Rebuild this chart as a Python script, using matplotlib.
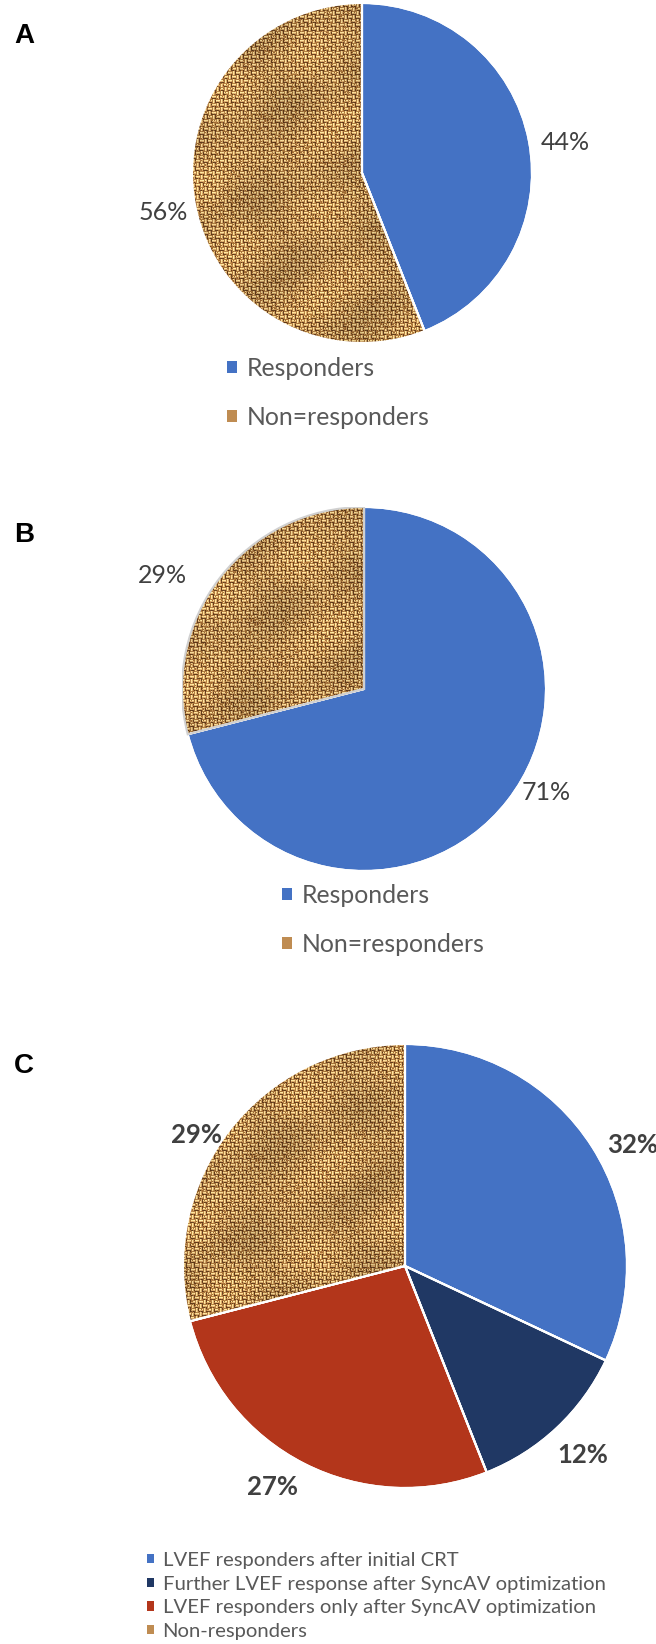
import numpy as np
import matplotlib
matplotlib.use("Agg")
import matplotlib.pyplot as plt
import matplotlib.patches as mpatches

# ---------------- data ----------------
a_labels = ["Responders", "Non=responders"]
a_values = [44, 56]

b_labels = ["Responders", "Non=responders"]
b_values = [71, 29]

c_labels = ["LVEF responders after initial CRT",
            "Further LVEF response after SyncAV optimization",
            "LVEF responders only after SyncAV optimization",
            "Non-responders"]
c_values = [32, 12, 27, 29]

panel_letters = ["A", "B", "C"]

# ---------------- style ----------------
W, H = 656, 1644
BLUE = "#4472C4"
NAVY = "#203864"
RED = "#B3361B"
TAN = "#BF8C52"
LABEL_COL = "#404040"
LEGEND_COL = "#595959"
FONT = ["Lato", "DejaVu Sans"]

fig = plt.figure(figsize=(W / 100, H / 100), dpi=100)


def weave_texture(n):
    y, x = np.mgrid[0:n, 0:n].astype(float)
    xi = x.astype(int)
    yi = y.astype(int)
    blk = 4
    orient = ((xi // blk) + (yi // blk)) % 2
    light = np.where(orient == 0, yi % blk == 1, xi % blk == 1)
    mid = np.where(orient == 0, yi % blk == 2, xi % blk == 2)
    darkl = np.where(orient == 0, yi % blk == 3, xi % blk == 3)
    h = np.sin(x * 12.9898 + y * 78.233) * 43758.5453
    h = h - np.floor(h)
    low = 0.5 + 0.25 * np.sin(x / 17.0 + np.sin(y / 23.0)) + 0.25 * np.sin(y / 13.0 + x / 31.0)
    base = np.array([0.66, 0.46, 0.24])
    lite = np.array([0.96, 0.85, 0.58])
    midc = np.array([0.82, 0.64, 0.40])
    dark = np.array([0.38, 0.23, 0.10])
    img = np.zeros((n, n, 3)) + base
    img[mid] = midc
    img[light & (h > 0.15)] = lite
    img[darkl & (h > 0.25)] = dark
    img = img * (0.90 + 0.18 * low[..., None]) + (h[..., None] - 0.5) * 0.10
    return np.clip(img, 0, 1)


def draw_pie(cx, cy, r, values, colors, tex_index, label_pos, bold, fs, outline_col):
    ax = fig.add_axes([(cx - r) / W, (H - cy - r) / H, 2 * r / W, 2 * r / H])
    wedges, _ = ax.pie(values, colors=colors, startangle=90, counterclock=False,
                       radius=1, wedgeprops=dict(edgecolor="white", linewidth=1.5))
    tw = wedges[tex_index]
    n = int(round(2 * r))
    im = ax.imshow(weave_texture(n), extent=(-1, 1, -1, 1), interpolation="nearest",
                   zorder=1.5)
    im.set_clip_path(tw)
    for i, w in enumerate(wedges):
        ec = outline_col if (i == tex_index and outline_col) else "white"
        ax.add_patch(mpatches.Wedge(w.center, w.r, w.theta1, w.theta2, fc="none",
                                    ec=ec, lw=1.5, zorder=2))
    for i, (w, v) in enumerate(zip(wedges, values)):
        th = np.deg2rad((w.theta1 + w.theta2) / 2 + label_pos[i][1])
        d = label_pos[i][0]
        ax.text(d * np.cos(th), d * np.sin(th), f"{v}%", ha="center", va="center",
                fontsize=fs, color=LABEL_COL, family=FONT,
                fontweight="bold" if bold else "normal")
    ax.set_xlim(-1, 1)
    ax.set_ylim(-1, 1)
    ax.set_aspect("auto")
    ax.axis("off")
    return wedges


def add_legend(labels, colors, x, y, fs, hl, hp, ls):
    handles = [mpatches.Patch(facecolor=c, edgecolor="none") for c in colors]
    leg = fig.legend(handles, labels, loc="center left",
                     bbox_to_anchor=(x / W, 1 - y / H), bbox_transform=fig.transFigure,
                     frameon=False, borderpad=0, borderaxespad=0,
                     handlelength=hl, handleheight=hl, handletextpad=hp,
                     labelspacing=ls, prop=dict(family=FONT, size=fs))
    for t in leg.get_texts():
        t.set_color(LEGEND_COL)
    return leg


# Panel A
draw_pie(362, 173, 170, a_values, [BLUE, TAN], 1,
         [(1.21, -2.4), (1.19, 0.6)], False, 18, None)
add_legend(a_labels, [BLUE, TAN], 227, 393, 17.8, 0.40, 0.4, 1.05)

# Panel B
draw_pie(364, 689, 182, b_values, [BLUE, TAN], 1,
         [(1.15, 8.3), (1.27, 8.4)], False, 18, "#D0D0D0")
add_legend(b_labels, [BLUE, TAN], 282, 920, 17.8, 0.40, 0.4, 1.05)

# Panel C
draw_pie(405, 1266, 222, c_values, [BLUE, NAVY, RED, TAN], 3,
         [(1.16, -4.5), (1.17, 0.0), (1.16, -4.0), (1.11, 5.8)], True, 18.5, None)
add_legend(c_labels, [BLUE, NAVY, RED, TAN], 147, 1596, 14.6, 0.33, 0.44, 0.33)

# Panel letters
for letter, ytop in zip(panel_letters, [23, 522, 1053]):
    fig.text(14 / W, 1 - ytop / H, letter, ha="left", va="top", fontsize=20,
             fontweight="bold", family=["Liberation Sans", "DejaVu Sans"], color="black")

fig.savefig("out.png", dpi=100)
